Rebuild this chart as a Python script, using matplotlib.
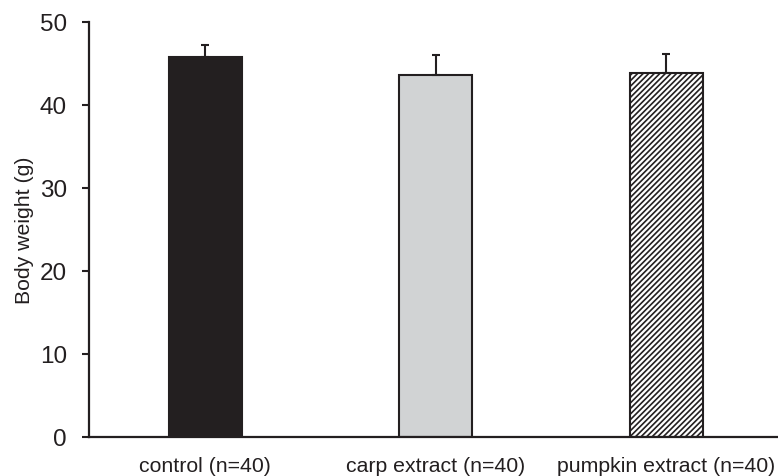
import matplotlib
matplotlib.use("Agg")
import matplotlib.pyplot as plt

plt.rcParams['font.family'] = ['Liberation Sans', 'DejaVu Sans']
plt.rcParams['hatch.linewidth'] = 1.2

groups = ["control (n=40)", "carp extract (n=40)", "pumpkin extract (n=40)"]
weights = [45.8, 43.6, 43.9]
errors = [1.4, 2.4, 2.2]
colors = ["#231f20", "#d1d3d4", "white"]
hatches = [None, None, "//////"]

fig = plt.figure(figsize=(7.78, 4.77), dpi=100)
ax = fig.add_axes([0.1144, 0.0818, 0.8856, 0.87])

x = list(range(len(groups)))
for i in x:
    ax.bar(i, weights[i], width=0.317, color=colors[i], edgecolor="#231f20",
           linewidth=1.5, hatch=hatches[i], zorder=2)
ax.errorbar(x, weights, yerr=[[0] * len(errors), errors], fmt="none",
            ecolor="#231f20", elinewidth=1.5, capsize=3, capthick=1.5, zorder=3)

ax.set_xlim(-0.505, 2.484)
ax.set_ylim(0, 50)
ax.set_yticks([0, 10, 20, 30, 40, 50])
ax.set_xticks(x)
ax.set_xticklabels(groups)
ax.set_ylabel("Body weight (g)", fontsize=15.3, color="#231f20", labelpad=4)

ax.spines["top"].set_visible(False)
ax.spines["right"].set_visible(False)
ax.spines["left"].set_linewidth(1.6)
ax.spines["bottom"].set_linewidth(1.6)
ax.spines["left"].set_color("#231f20")
ax.spines["bottom"].set_color("#231f20")
ax.tick_params(axis="y", direction="out", length=5, width=1.5, labelsize=17.5,
               colors="#231f20", pad=11)
ax.tick_params(axis="x", length=0, labelsize=15.3, colors="#231f20", pad=14)

fig.savefig("out.png", dpi=100)
